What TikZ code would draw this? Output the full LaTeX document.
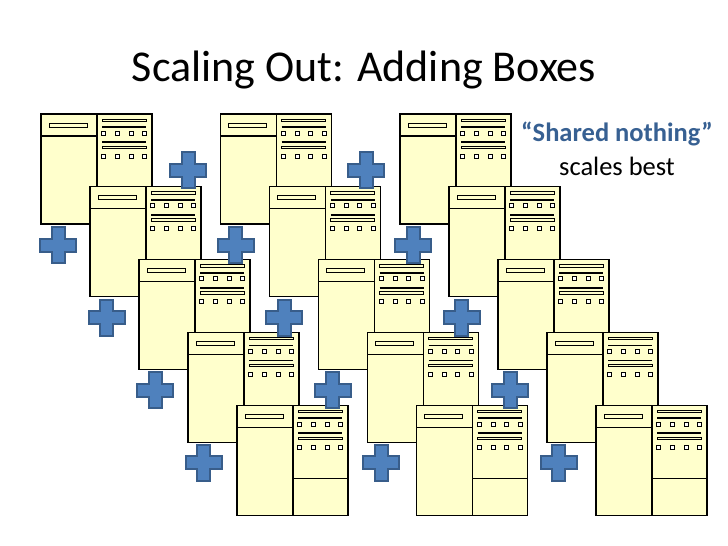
\documentclass[tikz,border=0pt]{standalone}
\usepackage{fontspec}
\setmainfont{Carlito}
\definecolor{boxfill}{HTML}{FFFFCC}
\definecolor{plusfill}{HTML}{4F81BD}
\definecolor{plusdraw}{HTML}{385D8A}
\definecolor{titleblue}{HTML}{376092}
\newcommand{\serverbox}[2]{%
  \begin{scope}[shift={(#1,#2)}]
    \draw[boxline] (0,0) rectangle (56,110);
    \draw[boxline] (56,0) rectangle (111,110);
    \draw[boxline] (0,22) -- (56,22);
    \draw[boxline] (56,73) -- (111,73);
    \draw[slot] (8,9) rectangle (46,13);
    \draw[slot] (61,5) rectangle (105,7.5);
    \draw[line width=1.8pt] (61,13) -- (105,13);
    \foreach \sx in {60.5,74.5,88,101.5} \draw[dot] (\sx,17) rectangle ++(4,4);
    \draw[line width=1.8pt] (61,28) -- (105,28);
    \draw[slot] (61,32) rectangle (105,34.5);
    \foreach \sx in {60.5,74.5,88,101.5} \draw[dot] (\sx,40) rectangle ++(4,4);
  \end{scope}}
\newcommand{\plussign}[2]{%
  \draw[plus] (#1,#2) ++(-6.5,-18) -- ++(13,0) -- ++(0,11.5) -- ++(11.5,0) -- ++(0,13)
    -- ++(-11.5,0) -- ++(0,11.5) -- ++(-13,0) -- ++(0,-11.5) -- ++(-11.5,0) -- ++(0,-13)
    -- ++(11.5,0) -- cycle;}
\begin{document}
\begin{tikzpicture}[x=1pt,y=-1pt,
    boxline/.style={draw=black, fill=boxfill, line width=1.1pt},
    slot/.style={draw=black, fill=boxfill, line width=0.9pt},
    dot/.style={draw=black, fill=white, line width=0.9pt},
    plus/.style={draw=plusdraw, fill=plusfill, line width=2pt, line join=miter},
    ]
    \useasboundingbox (0,0) rectangle (728,546);
    %Title
    \node[font=\fontsize{44}{52}\selectfont] (title) at (364,70) {Scaling Out: Adding Boxes};
    \node[font=\fontsize{26.5}{31}\selectfont\bfseries, text=titleblue] (shared) at (617,134) {``Shared nothing''};
    \node[font=\fontsize{26.5}{31}\selectfont] (scales) at (617,166) {scales best};
    %Servers
    \foreach \g in {0,1,2} {
      \foreach \r in {0,...,4} {
        \serverbox{41+179.5*\g+49*\r}{114+72.8*\r}
      }
    }
    %Plus signs
    \foreach \g in {0,1,2} {
      \foreach \r in {0,...,3} {
        \plussign{58+177.5*\g+48.5*\r}{245+72.5*\r}
      }
    }
    \plussign{188}{170}
    \plussign{366}{170}
\end{tikzpicture}
\end{document}
